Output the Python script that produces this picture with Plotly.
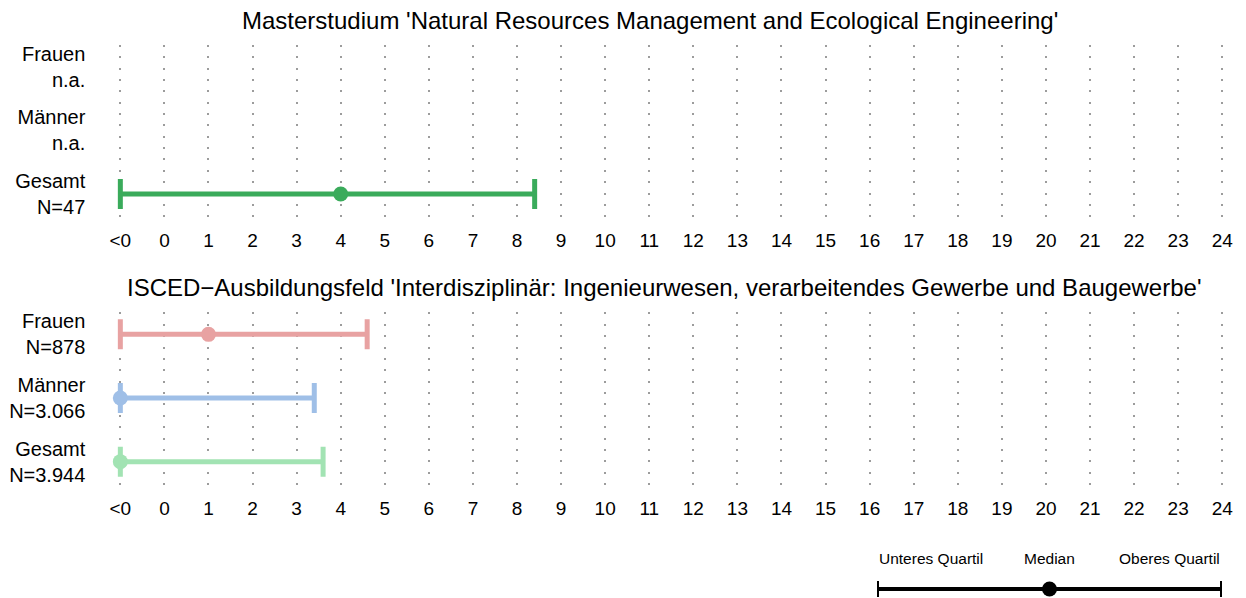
import plotly.graph_objects as go

# ---- data ----
groups = ["Frauen", "Männer", "Gesamt"]
top_title = "Masterstudium 'Natural Resources Management and Ecological Engineering'"
top_n = ["n.a.", "n.a.", "N=47"]
top_lower = [None, None, -1]      # -1 means "<0"
top_median = [None, None, 4.0]
top_upper = [None, None, 8.4]

bottom_title = "ISCED\u2212Ausbildungsfeld 'Interdisziplinär: Ingenieurwesen, verarbeitendes Gewerbe und Baugewerbe'"
bottom_n = ["N=878", "N=3.066", "N=3.944"]
bottom_lower = [-1, -1, -1]
bottom_median = [1.0, -1, -1]
bottom_upper = [4.6, 3.4, 3.6]

top_colors = ["#3aab5b", "#3aab5b", "#3aab5b"]
bottom_colors = ["#e8a2a2", "#9fbfe7", "#a2e3b3"]

tick_vals = list(range(-1, 25))
tick_text = ["<0"] + [str(v) for v in range(0, 25)]

key_labels = ["Unteres Quartil", "Median", "Oberes Quartil"]
key_pos = [0, 1, 2]

# ---- layout constants ----
W, H = 1246, 598
FONT = "Liberation Sans, Arial, sans-serif"
row_y = {"Frauen": 2, "Männer": 1, "Gesamt": 0}

fig = go.Figure()


def add_panel(lower, median, upper, colors, xa, ya):
    for g, lo, me, up, c in zip(groups, lower, median, upper, colors):
        if me is None:
            continue
        fig.add_trace(go.Scatter(
            x=[me], y=[row_y[g]], xaxis=xa, yaxis=ya, mode="markers",
            marker=dict(size=15, color=c),
            error_x=dict(type="data", symmetric=False, array=[up - me],
                         arrayminus=[me - lo], color=c, thickness=5, width=15),
            showlegend=False, cliponaxis=False, hoverinfo="skip"))


add_panel(top_lower, top_median, top_upper, top_colors, "x", "y")
add_panel(bottom_lower, bottom_median, bottom_upper, bottom_colors, "x2", "y2")

# legend key
fig.add_trace(go.Scatter(
    x=[key_pos[1]], y=[0], xaxis="x3", yaxis="y3", mode="markers",
    marker=dict(size=15, color="black"),
    error_x=dict(type="data", symmetric=False, array=[key_pos[2] - key_pos[1]],
                 arrayminus=[key_pos[1] - key_pos[0]], color="black",
                 thickness=4, width=11),
    showlegend=False, cliponaxis=False, hoverinfo="skip"))

x_dom = [98.3 / W, 1244.3 / W]
xaxis_common = dict(range=[-1.5, 24.5], tickvals=tick_vals, ticktext=tick_text,
                    showgrid=True, gridcolor="#9c9c9c", gridwidth=2,
                    griddash="2px,9.37px", zeroline=False, showline=False,
                    ticks="", ticklabelstandoff=10,
                    tickfont=dict(family=FONT, size=19, color="black"),
                    domain=x_dom, fixedrange=True)
yaxis_common = dict(range=[-0.36, 2.344], tickvals=[2, 1, 0],
                    showgrid=False, zeroline=False, showline=False, ticks="",
                    ticklabelstandoff=12, fixedrange=True,
                    tickfont=dict(family=FONT, size=20, color="black"))


def ylabels(ns):
    return [f"{g}<br>{n}" for g, n in zip(groups, ns)]


fig.update_layout(
    width=W, height=H, margin=dict(l=0, r=0, t=0, b=0),
    paper_bgcolor="white", plot_bgcolor="white",
    xaxis=dict(**xaxis_common, anchor="y"),
    yaxis=dict(**yaxis_common, ticktext=ylabels(top_n), anchor="x",
               domain=[1 - 216 / H, 1 - 43 / H]),
    xaxis2=dict(**xaxis_common, anchor="y2"),
    yaxis2=dict(**yaxis_common, ticktext=ylabels(bottom_n), anchor="x2",
                domain=[1 - 485 / H, 1 - 312 / H]),
    xaxis3=dict(range=[0, 2], domain=[877 / W, 1222 / W], visible=False,
                anchor="y3", fixedrange=True),
    yaxis3=dict(range=[-1, 1], domain=[0, 16 / H], visible=False,
                anchor="x3", fixedrange=True),
    showlegend=False,
)

# panel titles
fig.add_annotation(text=top_title, xref="paper", yref="paper",
                   x=650 / W, y=1 - 19 / H, yanchor="middle", showarrow=False,
                   font=dict(family=FONT, size=24, color="black"))
fig.add_annotation(text=bottom_title, xref="paper", yref="paper",
                   x=664 / W, y=1 - 287 / H, yanchor="middle", showarrow=False,
                   font=dict(family=FONT, size=24, color="black"))

# key labels
for p, lab, anc in zip(key_pos, key_labels, ["left", "center", "right"]):
    fig.add_annotation(text=lab, xref="x3", yref="paper", x=p, y=1 - 559 / H,
                       xanchor=anc, yanchor="middle", showarrow=False,
                       font=dict(family=FONT, size=15.5, color="black"))

fig.write_html("out.html", config={"displayModeBar": False},
               post_script="document.body.style.margin='0';"
                           "document.body.style.overflow='hidden';")
